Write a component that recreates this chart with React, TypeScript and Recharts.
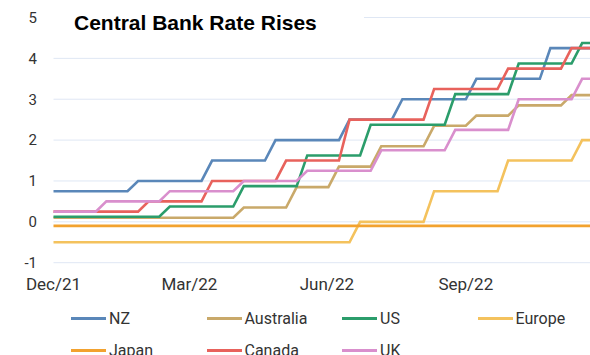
import React from 'react';
import { LineChart, Line, XAxis, YAxis, CartesianGrid } from 'recharts';

const TITLE = 'Central Bank Rate Rises';

// Weekly (Friday) observation dates
const weeks = [
  '2021-12-31',
  '2022-01-07', '2022-01-14', '2022-01-21', '2022-01-28',
  '2022-02-04', '2022-02-11', '2022-02-18', '2022-02-25',
  '2022-03-04', '2022-03-11', '2022-03-18', '2022-03-25',
  '2022-04-01', '2022-04-08', '2022-04-15', '2022-04-22', '2022-04-29',
  '2022-05-06', '2022-05-13', '2022-05-20', '2022-05-27',
  '2022-06-03', '2022-06-10', '2022-06-17', '2022-06-24',
  '2022-07-01', '2022-07-08', '2022-07-15', '2022-07-22', '2022-07-29',
  '2022-08-05', '2022-08-12', '2022-08-19', '2022-08-26',
  '2022-09-02', '2022-09-09', '2022-09-16', '2022-09-23', '2022-09-30',
  '2022-10-07', '2022-10-14', '2022-10-21', '2022-10-28',
  '2022-11-04', '2022-11-11', '2022-11-18', '2022-11-25',
  '2022-12-02', '2022-12-09', '2022-12-16', '2022-12-23',
];

const nz = [
  0.75, 0.75, 0.75, 0.75, 0.75, 0.75, 0.75, 0.75,
  1, 1, 1, 1, 1, 1, 1,
  1.5, 1.5, 1.5, 1.5, 1.5, 1.5,
  2, 2, 2, 2, 2, 2, 2,
  2.5, 2.5, 2.5, 2.5, 2.5,
  3, 3, 3, 3, 3, 3, 3,
  3.5, 3.5, 3.5, 3.5, 3.5, 3.5, 3.5,
  4.25, 4.25, 4.25, 4.25, 4.25,
];

const australia = [
  0.1, 0.1, 0.1, 0.1, 0.1, 0.1, 0.1, 0.1, 0.1, 0.1, 0.1, 0.1, 0.1, 0.1, 0.1, 0.1, 0.1, 0.1,
  0.35, 0.35, 0.35, 0.35, 0.35,
  0.85, 0.85, 0.85, 0.85,
  1.35, 1.35, 1.35, 1.35,
  1.85, 1.85, 1.85, 1.85, 1.85,
  2.35, 2.35, 2.35, 2.35,
  2.6, 2.6, 2.6, 2.6,
  2.85, 2.85, 2.85, 2.85, 2.85,
  3.1, 3.1, 3.1,
];

const us = [
  0.125, 0.125, 0.125, 0.125, 0.125, 0.125, 0.125, 0.125, 0.125, 0.125, 0.125,
  0.375, 0.375, 0.375, 0.375, 0.375, 0.375, 0.375,
  0.875, 0.875, 0.875, 0.875, 0.875, 0.875,
  1.625, 1.625, 1.625, 1.625, 1.625, 1.625,
  2.375, 2.375, 2.375, 2.375, 2.375, 2.375, 2.375, 2.375,
  3.125, 3.125, 3.125, 3.125, 3.125, 3.125,
  3.875, 3.875, 3.875, 3.875, 3.875, 3.875,
  4.375, 4.375,
];

const europe = [
  -0.5, -0.5, -0.5, -0.5, -0.5, -0.5, -0.5, -0.5, -0.5, -0.5,
  -0.5, -0.5, -0.5, -0.5, -0.5, -0.5, -0.5, -0.5, -0.5, -0.5,
  -0.5, -0.5, -0.5, -0.5, -0.5, -0.5, -0.5, -0.5, -0.5,
  0, 0, 0, 0, 0, 0, 0,
  0.75, 0.75, 0.75, 0.75, 0.75, 0.75, 0.75,
  1.5, 1.5, 1.5, 1.5, 1.5, 1.5, 1.5,
  2, 2,
];

const japan = [
  -0.1, -0.1, -0.1, -0.1, -0.1, -0.1, -0.1, -0.1, -0.1, -0.1, -0.1, -0.1, -0.1,
  -0.1, -0.1, -0.1, -0.1, -0.1, -0.1, -0.1, -0.1, -0.1, -0.1, -0.1, -0.1, -0.1,
  -0.1, -0.1, -0.1, -0.1, -0.1, -0.1, -0.1, -0.1, -0.1, -0.1, -0.1, -0.1, -0.1,
  -0.1, -0.1, -0.1, -0.1, -0.1, -0.1, -0.1, -0.1, -0.1, -0.1, -0.1, -0.1, -0.1,
];

const canada = [
  0.25, 0.25, 0.25, 0.25, 0.25, 0.25, 0.25, 0.25, 0.25,
  0.5, 0.5, 0.5, 0.5, 0.5, 0.5,
  1, 1, 1, 1, 1, 1, 1,
  1.5, 1.5, 1.5, 1.5, 1.5, 1.5,
  2.5, 2.5, 2.5, 2.5, 2.5, 2.5, 2.5, 2.5,
  3.25, 3.25, 3.25, 3.25, 3.25, 3.25, 3.25,
  3.75, 3.75, 3.75, 3.75, 3.75, 3.75,
  4.25, 4.25, 4.25,
];

const uk = [
  0.25, 0.25, 0.25, 0.25, 0.25,
  0.5, 0.5, 0.5, 0.5, 0.5, 0.5,
  0.75, 0.75, 0.75, 0.75, 0.75, 0.75, 0.75,
  1, 1, 1, 1, 1, 1,
  1.25, 1.25, 1.25, 1.25, 1.25, 1.25, 1.25,
  1.75, 1.75, 1.75, 1.75, 1.75, 1.75, 1.75,
  2.25, 2.25, 2.25, 2.25, 2.25, 2.25,
  3, 3, 3, 3, 3, 3,
  3.5, 3.5,
];

const seriesNames = ['NZ', 'Australia', 'US', 'Europe', 'Japan', 'Canada', 'UK'];
const seriesValues = [nz, australia, us, europe, japan, canada, uk];
const seriesColors = ['#5a87b9', '#c9a96a', '#2b9d6b', '#f4c25d', '#f2a22f', '#e8625c', '#d98fcd'];

const tickDates = ['2021-12-31', '2022-03-31', '2022-06-30', '2022-09-30'];
const tickLabels = ['Dec/21', 'Mar/22', 'Jun/22', 'Sep/22'];
const yTicks = [-1, 0, 1, 2, 3, 4, 5];

const toTime = (d: string) => Date.parse(d + 'T00:00:00Z');

const data = weeks.map((w, i) => {
  const row: Record<string, number> = { t: toTime(w) };
  seriesNames.forEach((n, s) => {
    row[n] = seriesValues[s][i];
  });
  return row;
});

const tickTimes = tickDates.map(toTime);
const formatTick = (v: number) => {
  const idx = tickTimes.indexOf(v);
  return idx >= 0 ? tickLabels[idx] : '';
};

const FONT = 'Roboto, "Liberation Sans", Arial, sans-serif';

export default function App() {
  return (
    <div
      style={{
        position: 'absolute',
        left: 0,
        top: 0,
        width: 590,
        height: 355,
        overflow: 'hidden',
        background: '#ffffff',
        fontFamily: FONT,
      }}
    >
      <LineChart
        width={600}
        height={355}
        data={data}
        margin={{ top: 17.5, right: 7.3, left: 0, bottom: 62.3 }}
      >
        <CartesianGrid vertical={false} stroke="#dfe7f4" strokeWidth={1} />
        <XAxis
          dataKey="t"
          type="number"
          domain={[toTime(weeks[0]), toTime(weeks[weeks.length - 1])]}
          ticks={tickTimes}
          tickFormatter={formatTick}
          axisLine={false}
          tickLine={false}
          tickMargin={9.6}
          height={30}
          tick={{ fontSize: 17, fill: '#333333', fontFamily: FONT }}
          interval={0}
        />
        <YAxis
          domain={[-1, 5]}
          ticks={yTicks}
          axisLine={false}
          tickLine={false}
          width={53.5}
          tickMargin={10.5}
          interval={0}
          tick={{ fontSize: 15, fill: '#333333', fontFamily: FONT }}
        />
        {seriesNames.map((n, s) => (
          <Line
            key={n}
            type="linear"
            dataKey={n}
            stroke={seriesColors[s]}
            strokeWidth={2.6}
            dot={false}
            isAnimationActive={false}
          />
        ))}
      </LineChart>

      <div
        style={{
          position: 'absolute',
          left: 53,
          top: 10,
          width: 311,
          height: 26,
          background: '#ffffff',
          paddingLeft: 21,
          boxSizing: 'border-box',
          fontFamily: '"Liberation Sans", Arial, sans-serif',
          fontWeight: 'bold',
          fontSize: 21,
          lineHeight: '26px',
          color: '#000000',
          whiteSpace: 'nowrap',
        }}
      >
        {TITLE}
      </div>

      {seriesNames.map((n, s) => {
        const col = s % 4;
        const row = Math.floor(s / 4);
        return (
          <div
            key={n}
            style={{
              position: 'absolute',
              left: 71 + col * 135.5,
              top: 318.7 + row * 32 - 16,
              height: 32,
              display: 'flex',
              alignItems: 'center',
              whiteSpace: 'nowrap',
            }}
          >
            <div style={{ width: 35, height: 3, background: seriesColors[s] }} />
            <span
              style={{
                marginLeft: 3,
                fontSize: 16,
                lineHeight: '32px',
                color: '#333333',
                fontFamily: FONT,
              }}
            >
              {n}
            </span>
          </div>
        );
      })}
    </div>
  );
}
